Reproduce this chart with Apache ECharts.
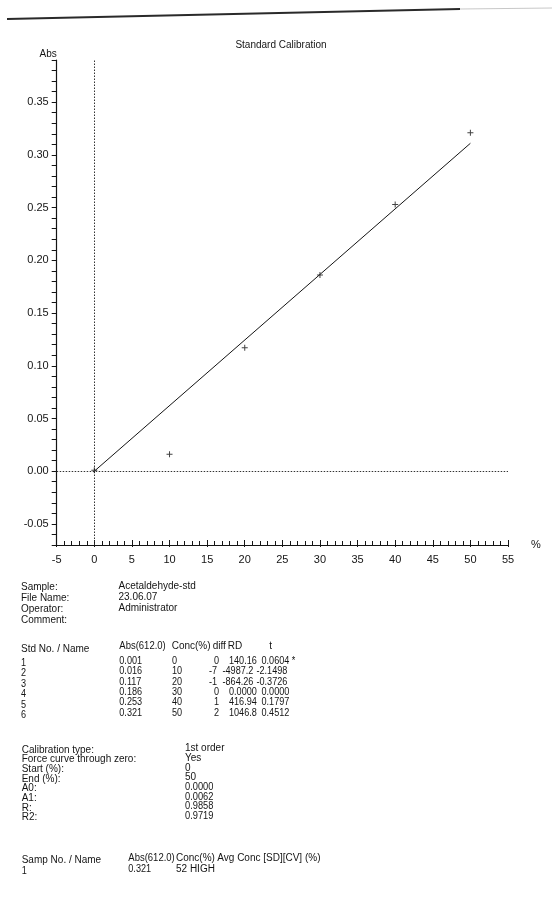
<!DOCTYPE html>
<html>
<head>
<meta charset="utf-8">
<script src="https://cdn.jsdelivr.net/npm/echarts@6/dist/echarts.min.js"></script>
<style>
html,body{margin:0;padding:0;background:#fff;}
#chart{width:552px;height:918px;}
</style>
</head>
<body>
<div id="chart"></div>
<script>
// ---- data ----
const stdNo = ['1', '2', '3', '4', '5', '6'];
const stdAbs = [0.001, 0.016, 0.117, 0.186, 0.253, 0.321];
const stdConc = [0, 10, 20, 30, 40, 50];
const stdDiff = ['0', '-7', '-1', '0', '1', '2'];
const stdRD = ['140.16', '-4987.2', '-864.26', '0.0000', '416.94', '1046.8'];
const stdT = ['0.0604 *', '-2.1498', '-0.3726', '0.0000', '0.1797', '0.4512'];
const fitConc = [0, 50];
const fitAbs = [0, 0.311];
const yTickLabels = ['-0.05', '0.00', '0.05', '0.10', '0.15', '0.20', '0.25', '0.30', '0.35'];
const xTickLabels = ['-5', '0', '5', '10', '15', '20', '25', '30', '35', '40', '45', '50', '55'];
const chartTitle = 'Standard Calibration';
const yName = 'Abs';
const xName = '%';
const infoLabels = ['Sample:', 'File Name:', 'Operator:', 'Comment:'];
const infoValues = ['Acetaldehyde-std', '23.06.07', 'Administrator', ''];
const tableHeader = ['Std No. / Name', 'Abs(612.0)', 'Conc(%)', 'diff', 'RD', 't'];
const calibLabels = ['Calibration type:', 'Force curve through zero:', 'Start (%):', 'End (%):', 'A0:', 'A1:', 'R:', 'R2:'];
const calibValues = ['1st order', 'Yes', '0', '50', '0.0000', '0.0062', '0.9858', '0.9719'];
const sampHeader = ['Samp No. / Name', 'Abs(612.0)', 'Conc(%)', 'Avg Conc [SD][CV] (%)'];
const sampRow = ['1', '0.321', '52 HIGH'];

// ---- helpers ----
const FONT = '"Liberation Sans", Arial, Helvetica, sans-serif';
const INK = '#141414';
function txt(x, y, text, size, align, sx) {
  let scale = sx;
  if (scale == null) {
    if (/^[-0-9.]+/.test(text)) scale = 0.91;
    else if (text.indexOf('Abs(') === 0) scale = 0.95;
    else scale = 1;
  }
  return {
    type: 'text', x: x, y: y, scaleX: scale, silent: true, z: 10,
    style: {
      text: text, fontSize: size || 10, fontFamily: FONT, fill: INK,
      align: align || 'left', verticalAlign: 'middle'
    }
  };
}
function negShift(s) { return s.charAt(0) === '-' ? 5 : 0; }

const graphics = [];
// scan edge line at the top of the page
graphics.push({ type: 'line', silent: true, shape: { x1: 7, y1: 19, x2: 460, y2: 9 }, style: { stroke: '#2a2a2a', lineWidth: 1.8 } });
graphics.push({ type: 'line', silent: true, shape: { x1: 460, y1: 9, x2: 552, y2: 8 }, style: { stroke: '#c8c8c8', lineWidth: 1.2 } });
// title
graphics.push(txt(281, 45, chartTitle, 10, 'center', 1));

// info block
const infoY = [587.5, 598.2, 609, 620];
infoLabels.forEach((l, i) => {
  graphics.push(txt(21, infoY[i], l, 10, 'left', 1));
  if (infoValues[i]) graphics.push(txt(118.5, infoY[i] - 1, infoValues[i], 10, 'left', 1));
});

// standards table
const colX = [21, 119.3, 172, 214, 229, 261.5];
const headX = [21, 119.3, 171.7, 212.7, 227.7, 269.3];
graphics.push(txt(headX[0], 649, tableHeader[0], 10, 'left', 1));
for (let c = 1; c < tableHeader.length; c++) graphics.push(txt(headX[c], 646, tableHeader[c]));
stdNo.forEach((n, i) => {
  const y = 661 + i * 10.4;
  graphics.push(txt(colX[0], y + 2.3, n));
  graphics.push(txt(colX[1], y, stdAbs[i].toFixed(3)));
  graphics.push(txt(colX[2], y, String(stdConc[i])));
  graphics.push(txt(colX[3] - negShift(stdDiff[i]), y, stdDiff[i]));
  graphics.push(txt(colX[4] - negShift(stdRD[i]) * 1.3, y, stdRD[i]));
  graphics.push(txt(colX[5] - negShift(stdT[i]), y, stdT[i]));
});

// calibration block
calibLabels.forEach((l, i) => {
  const y = 750 + i * 9.65;
  graphics.push(txt(21.7, y, l));
  graphics.push(txt(185, y - 1.3, calibValues[i], 10, 'left', calibValues[i].length > 2 && /^[0-9.]+$/.test(calibValues[i]) ? 0.93 : 1));
});

// sample block
graphics.push(txt(21.7, 860, sampHeader[0]));
graphics.push(txt(128.3, 858.3, sampHeader[1]));
graphics.push(txt(176, 858.3, sampHeader[2]));
graphics.push(txt(217.3, 858.3, sampHeader[3]));
graphics.push(txt(21.7, 871, sampRow[0]));
graphics.push(txt(128.3, 869, sampRow[1]));
graphics.push(txt(176, 869, sampRow[2], 10, 'left', 1));

// ---- chart ----
const chart = echarts.init(document.getElementById('chart'), null, { renderer: 'canvas' });
const plus = 'path://M2.5,0H3.5V2.5H6V3.5H3.5V6H2.5V3.5H0V2.5H2.5Z';
const axisLineStyle = { color: INK, width: 1 };

chart.setOption({
  animation: false,
  backgroundColor: '#ffffff',
  textStyle: { fontFamily: FONT },
  grid: { left: 56.7, right: 44, top: 60, bottom: 373, containLabel: false },
  xAxis: [{
    type: 'value', min: -5, max: 55, interval: 5,
    name: xName, nameLocation: 'end', nameGap: 23,
    nameTextStyle: { fontSize: 11, color: INK, verticalAlign: 'middle' },
    axisLine: { show: true, onZero: false, lineStyle: axisLineStyle },
    axisTick: { show: true, inside: true, length: 5, lineStyle: { color: INK, width: 1 } },
    minorTick: { show: true, splitNumber: 5, length: 4, lineStyle: { color: INK, width: 1 } },
    splitLine: { show: false },
    minorSplitLine: { show: false },
    axisLabel: {
      fontSize: 11, color: INK, margin: 9,
      formatter: v => { const s = String(Math.round(v)); return xTickLabels.indexOf(s) >= 0 ? s : ''; }
    }
  }, {
    type: 'value', min: -5, max: 55, interval: 5, position: 'bottom',
    axisLine: { show: false, onZero: false }, axisLabel: { show: false },
    axisTick: { show: true, inside: false, length: 2, lineStyle: { color: INK, width: 1 } },
    splitLine: { show: false }
  }],
  yAxis: {
    type: 'value', min: -0.07, max: 0.39, interval: 0.01,
    name: yName, nameLocation: 'end', nameGap: 6,
    nameTextStyle: { fontSize: 10, color: INK, align: 'right', verticalAlign: 'middle' },
    axisLine: { show: true, onZero: false, lineStyle: { color: INK, width: 1.2 } },
    axisTick: { show: true, inside: false, length: 5, lineStyle: { color: INK, width: 1 } },
    splitLine: { show: false },
    axisLabel: {
      fontSize: 11, color: INK, margin: 8,
      formatter: v => { const s = (Math.round(v * 100) / 100).toFixed(2); return yTickLabels.indexOf(s) >= 0 ? s : ''; }
    }
  },
  series: [{
    type: 'scatter',
    xAxisIndex: 0,
    data: stdConc.map((c, i) => [c, stdAbs[i]]),
    symbol: plus, symbolSize: 6, symbolKeepAspect: true,
    itemStyle: { color: INK },
    z: 5,
    markLine: {
      silent: true, symbol: ['none', 'none'], animation: false,
      label: { show: false },
      lineStyle: { color: '#333', width: 1, type: [1.5, 1.5] },
      data: [{ xAxis: 0 }, { yAxis: 0 }]
    }
  }, {
    type: 'line',
    xAxisIndex: 0,
    data: fitConc.map((c, i) => [c, fitAbs[i]]),
    showSymbol: false, symbol: 'none',
    lineStyle: { color: INK, width: 1 },
    z: 4
  }],
  graphic: graphics
});
</script>
</body>
</html>
